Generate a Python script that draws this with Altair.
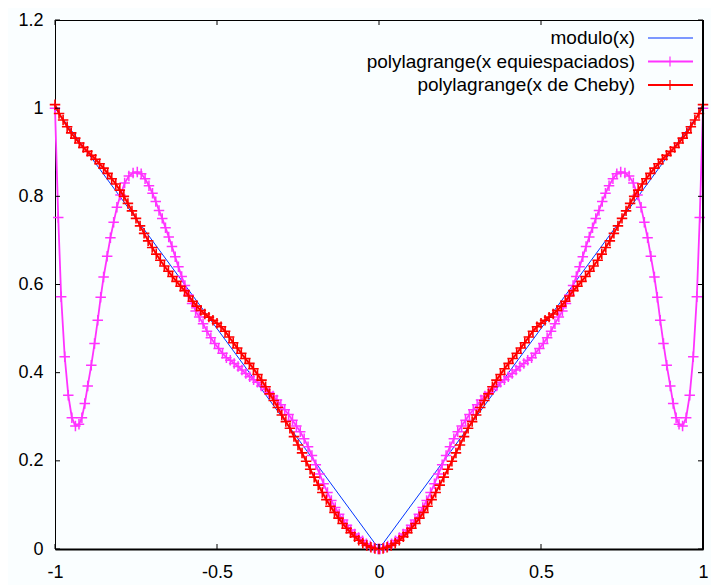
import altair as alt
import pandas as pd

# ---------------- data ----------------
MOD_X = [-1.0, -0.0101, 0.0101, 1.0]
MOD_Y = [1.0, 0.0101, 0.0101, 1.0]

MAG_X_LEFT = [-1.000, -0.990, -0.981, -0.970, -0.959, -0.948, -0.937, -0.926, -0.917, -0.908,
              -0.899, -0.888, -0.878, -0.868, -0.859, -0.850, -0.839, -0.829, -0.819, -0.809,
              -0.798, -0.785, -0.772, -0.759, -0.746, -0.734, -0.722, -0.710, -0.699, -0.689,
              -0.679, -0.669, -0.659, -0.649, -0.639, -0.629, -0.619, -0.609, -0.599, -0.588,
              -0.577, -0.566, -0.555, -0.543, -0.531, -0.519, -0.507, -0.495, -0.483, -0.471,
              -0.459, -0.447, -0.435, -0.423, -0.411, -0.399, -0.387, -0.375, -0.363, -0.351,
              -0.339, -0.327, -0.315, -0.303, -0.291, -0.279, -0.267, -0.255, -0.243, -0.231,
              -0.219, -0.207, -0.195, -0.183, -0.171, -0.159, -0.147, -0.135, -0.123, -0.111,
              -0.099, -0.087, -0.075, -0.063, -0.051, -0.039, -0.027, -0.015, -0.003]
MAG_Y_LEFT = [1.000, 0.752, 0.572, 0.436, 0.349, 0.298, 0.279, 0.283, 0.298, 0.330,
              0.370, 0.417, 0.466, 0.519, 0.571, 0.617, 0.664, 0.706, 0.741, 0.775,
              0.803, 0.830, 0.846, 0.853, 0.855, 0.851, 0.840, 0.824, 0.807, 0.788,
              0.768, 0.750, 0.729, 0.708, 0.686, 0.663, 0.640, 0.618, 0.598, 0.576,
              0.557, 0.540, 0.526, 0.511, 0.494, 0.479, 0.466, 0.455, 0.444, 0.434,
              0.428, 0.421, 0.414, 0.406, 0.398, 0.391, 0.384, 0.378, 0.370, 0.362,
              0.355, 0.347, 0.338, 0.327, 0.316, 0.305, 0.292, 0.279, 0.266, 0.250,
              0.232, 0.212, 0.191, 0.170, 0.148, 0.128, 0.110, 0.094, 0.079, 0.066,
              0.054, 0.043, 0.034, 0.026, 0.019, 0.012, 0.007, 0.003, 0.000]
MAG_X_RIGHT = [0.003, 0.015, 0.027, 0.039, 0.051, 0.063, 0.075, 0.087, 0.099, 0.111,
               0.123, 0.135, 0.147, 0.159, 0.171, 0.183, 0.195, 0.207, 0.219, 0.231,
               0.243, 0.255, 0.267, 0.279, 0.291, 0.303, 0.315, 0.327, 0.339, 0.351,
               0.363, 0.375, 0.387, 0.399, 0.411, 0.423, 0.435, 0.447, 0.459, 0.471,
               0.483, 0.495, 0.507, 0.519, 0.531, 0.543, 0.555, 0.566, 0.577, 0.588,
               0.599, 0.609, 0.619, 0.629, 0.639, 0.649, 0.659, 0.669, 0.679, 0.689,
               0.699, 0.710, 0.722, 0.734, 0.746, 0.759, 0.772, 0.785, 0.798, 0.809,
               0.819, 0.829, 0.839, 0.850, 0.859, 0.868, 0.878, 0.888, 0.899, 0.908,
               0.917, 0.926, 0.937, 0.948, 0.959, 0.970, 0.981, 0.990, 1.000]
MAG_Y_RIGHT = [0.000, 0.003, 0.007, 0.012, 0.019, 0.026, 0.034, 0.043, 0.054, 0.066,
               0.079, 0.094, 0.110, 0.128, 0.148, 0.170, 0.191, 0.212, 0.232, 0.250,
               0.266, 0.279, 0.292, 0.305, 0.316, 0.327, 0.338, 0.347, 0.355, 0.362,
               0.370, 0.378, 0.384, 0.391, 0.398, 0.406, 0.414, 0.421, 0.428, 0.434,
               0.444, 0.455, 0.466, 0.479, 0.494, 0.511, 0.526, 0.540, 0.557, 0.576,
               0.598, 0.618, 0.640, 0.663, 0.686, 0.708, 0.729, 0.750, 0.768, 0.788,
               0.807, 0.824, 0.840, 0.851, 0.855, 0.853, 0.846, 0.830, 0.803, 0.775,
               0.741, 0.706, 0.664, 0.617, 0.571, 0.519, 0.466, 0.417, 0.370, 0.330,
               0.298, 0.283, 0.279, 0.298, 0.349, 0.436, 0.572, 0.752, 1.000]

RED_X_LEFT = [-1.0, -0.9875, -0.975, -0.9625, -0.95, -0.9375, -0.925, -0.9125, -0.9, -0.8875,
              -0.875, -0.8625, -0.85, -0.8375, -0.825, -0.8125, -0.8, -0.7875, -0.775, -0.7625,
              -0.75, -0.7375, -0.725, -0.7125, -0.7, -0.6875, -0.675, -0.6625, -0.65, -0.6375,
              -0.625, -0.6125, -0.6, -0.5875, -0.575, -0.5625, -0.55, -0.5375, -0.525, -0.5125,
              -0.5, -0.4875, -0.475, -0.4625, -0.45, -0.4375, -0.425, -0.4125, -0.4, -0.3875,
              -0.375, -0.3625, -0.35, -0.3375, -0.325, -0.3125, -0.3, -0.2875, -0.275, -0.2625,
              -0.25, -0.2375, -0.225, -0.2125, -0.2, -0.1875, -0.175, -0.1625, -0.15, -0.1375,
              -0.125, -0.1125, -0.1, -0.0875, -0.075, -0.0625, -0.05, -0.0375, -0.025, -0.0125,
              0.0]
RED_Y_LEFT = [1.008, 0.988, 0.973, 0.958, 0.944, 0.932, 0.921, 0.911, 0.902, 0.893,
              0.884, 0.874, 0.864, 0.852, 0.840, 0.828, 0.814, 0.800, 0.784, 0.767,
              0.750, 0.733, 0.716, 0.699, 0.684, 0.669, 0.655, 0.642, 0.630, 0.618,
              0.607, 0.596, 0.586, 0.574, 0.562, 0.551, 0.541, 0.533, 0.526, 0.519,
              0.512, 0.504, 0.494, 0.481, 0.468, 0.456, 0.444, 0.432, 0.421, 0.409,
              0.396, 0.383, 0.368, 0.352, 0.337, 0.321, 0.304, 0.289, 0.274, 0.255,
              0.236, 0.218, 0.199, 0.181, 0.163, 0.145, 0.128, 0.112, 0.097, 0.083,
              0.070, 0.058, 0.047, 0.037, 0.028, 0.020, 0.013, 0.008, 0.004, 0.001,
              0.000]
RED_X_RIGHT = [0.0125, 0.025, 0.0375, 0.05, 0.0625, 0.075, 0.0875, 0.1, 0.1125, 0.125,
               0.1375, 0.15, 0.1625, 0.175, 0.1875, 0.2, 0.2125, 0.225, 0.2375, 0.25,
               0.2625, 0.275, 0.2875, 0.3, 0.3125, 0.325, 0.3375, 0.35, 0.3625, 0.375,
               0.3875, 0.4, 0.4125, 0.425, 0.4375, 0.45, 0.4625, 0.475, 0.4875, 0.5,
               0.5125, 0.525, 0.5375, 0.55, 0.5625, 0.575, 0.5875, 0.6, 0.6125, 0.625,
               0.6375, 0.65, 0.6625, 0.675, 0.6875, 0.7, 0.7125, 0.725, 0.7375, 0.75,
               0.7625, 0.775, 0.7875, 0.8, 0.8125, 0.825, 0.8375, 0.85, 0.8625, 0.875,
               0.8875, 0.9, 0.9125, 0.925, 0.9375, 0.95, 0.9625, 0.975, 0.9875, 1.0]
RED_Y_RIGHT = [0.001, 0.004, 0.008, 0.013, 0.020, 0.028, 0.037, 0.047, 0.058, 0.070,
               0.083, 0.097, 0.112, 0.128, 0.145, 0.163, 0.181, 0.199, 0.218, 0.236,
               0.255, 0.274, 0.289, 0.304, 0.321, 0.337, 0.352, 0.368, 0.383, 0.396,
               0.409, 0.421, 0.432, 0.444, 0.456, 0.468, 0.481, 0.494, 0.504, 0.512,
               0.519, 0.526, 0.533, 0.541, 0.551, 0.562, 0.574, 0.586, 0.596, 0.607,
               0.618, 0.630, 0.642, 0.655, 0.669, 0.684, 0.699, 0.716, 0.733, 0.750,
               0.767, 0.784, 0.800, 0.814, 0.828, 0.840, 0.852, 0.864, 0.874, 0.884,
               0.893, 0.902, 0.911, 0.921, 0.932, 0.944, 0.958, 0.973, 0.988, 1.008]

X_TICKS = [-1, -0.5, 0, 0.5, 1]
Y_TICKS = [0, 0.2, 0.4, 0.6, 0.8, 1, 1.2]

LEGEND_LABELS = ["modulo(x)", "polylagrange(x equiespaciados)", "polylagrange(x de Cheby)"]
COLORS = ["#0033ff", "#ff33ff", "#ff0000"]

assert len(MAG_X_LEFT) == len(MAG_Y_LEFT) and len(MAG_X_RIGHT) == len(MAG_Y_RIGHT)
assert len(RED_X_LEFT) == len(RED_Y_LEFT) and len(RED_X_RIGHT) == len(RED_Y_RIGHT)

# ---------------- chart ----------------
W, H = 648, 529
FONT = "Liberation Sans"
FS = 18
FS_LEG = 19
PLUS = "M-1,0L1,0M0,-1L0,1"

xs = alt.Scale(domain=[-1, 1], nice=False, zero=False)
ys = alt.Scale(domain=[0, 1.2], nice=False, zero=False)

df_mod = pd.DataFrame({"x": MOD_X, "y": MOD_Y})
df_mag = pd.DataFrame({"x": MAG_X_LEFT + MAG_X_RIGHT, "y": MAG_Y_LEFT + MAG_Y_RIGHT})
df_red = pd.DataFrame({"x": RED_X_LEFT + RED_X_RIGHT, "y": RED_Y_LEFT + RED_Y_RIGHT})

x_axis = alt.Axis(values=X_TICKS, labelExpr="'' + datum.value", ticks=False, tickSize=0,
                  grid=False, title=None, domain=True, domainColor="black", domainWidth=2,
                  labelPadding=14, labelFont=FONT, labelFontSize=FS, labelColor="black",
                  labelFlush=False, labelOverlap=False)
y_axis = alt.Axis(values=Y_TICKS, labelExpr="'' + datum.value", ticks=False, tickSize=0,
                  grid=False, title=None, domain=False,
                  labelPadding=12, labelFont=FONT, labelFontSize=FS, labelColor="black",
                  labelFlush=False, labelOverlap=False)

X = alt.X("x:Q", scale=xs, axis=x_axis)
Y = alt.Y("y:Q", scale=ys, axis=y_axis)

blue = alt.Chart(df_mod).mark_line(color=COLORS[0], strokeWidth=1).encode(x=X, y=Y)
mag_line = alt.Chart(df_mag).mark_line(color=COLORS[1], strokeWidth=1.8).encode(x=X, y=Y)
mag_pts = alt.Chart(df_mag).mark_point(shape=PLUS, size=110, filled=False, strokeWidth=1.5,
                                       opacity=1, color=COLORS[1]).encode(x=X, y=Y)
red_line = alt.Chart(df_red).mark_line(color=COLORS[2], strokeWidth=2).encode(x=X, y=Y)
red_pts = alt.Chart(df_red).mark_point(shape=PLUS, size=110, filled=False, strokeWidth=1.6,
                                       opacity=1, color=COLORS[2]).encode(x=X, y=Y)

# frame pieces and inward ticks
df_xt = pd.DataFrame({"x": X_TICKS})
df_yt = pd.DataFrame({"y": Y_TICKS})
right_edge = alt.Chart(pd.DataFrame({"x": [1]})).mark_rule(color="black", strokeWidth=2).encode(x=X)
tick_l = alt.Chart(df_yt).mark_rule(color="black", strokeWidth=1).encode(y=Y, x=alt.value(0), x2=alt.value(5))
tick_r = alt.Chart(df_yt).mark_rule(color="black", strokeWidth=1).encode(y=Y, x=alt.value(W - 5), x2=alt.value(W))
tick_b = alt.Chart(df_xt).mark_rule(color="black", strokeWidth=1).encode(x=X, y=alt.value(H), y2=alt.value(H - 5))
tick_t = alt.Chart(df_xt).mark_rule(color="black", strokeWidth=1).encode(x=X, y=alt.value(0), y2=alt.value(5))

# legend (top right, labels to the left of samples)
legend_layers = []
for i, (lab, col) in enumerate(zip(LEGEND_LABELS, COLORS)):
    yy = 18 + 23.5 * i
    legend_layers.append(
        alt.Chart(pd.DataFrame({"t": [lab]})).mark_text(
            align="right", baseline="middle", font=FONT, fontSize=FS_LEG, color="black"
        ).encode(text="t:N", x=alt.value(580), y=alt.value(yy))
    )
    legend_layers.append(
        alt.Chart(pd.DataFrame({"t": [lab]})).mark_rule(
            color=col, strokeWidth=1 if i == 0 else 2
        ).encode(x=alt.value(593), x2=alt.value(638), y=alt.value(yy))
    )
    if i > 0:
        legend_layers.append(
            alt.Chart(pd.DataFrame({"t": [lab]})).mark_point(
                shape=PLUS, size=100, filled=False, strokeWidth=1.2, opacity=1, color=col
            ).encode(x=alt.value(615), y=alt.value(yy))
        )

chart = alt.layer(
    blue, mag_line, mag_pts, red_line, red_pts,
    right_edge, tick_l, tick_r, tick_b, tick_t,
    *legend_layers
).properties(
    width=W, height=H,
    autosize=alt.AutoSizeParams(type="none"),
    padding={"left": 47, "top": 12, "right": 8, "bottom": 36},
    background="#fafeff",
).configure_view(stroke="black", strokeWidth=1)

chart.save("out.html", embed_options={"renderer": "svg", "actions": False})
